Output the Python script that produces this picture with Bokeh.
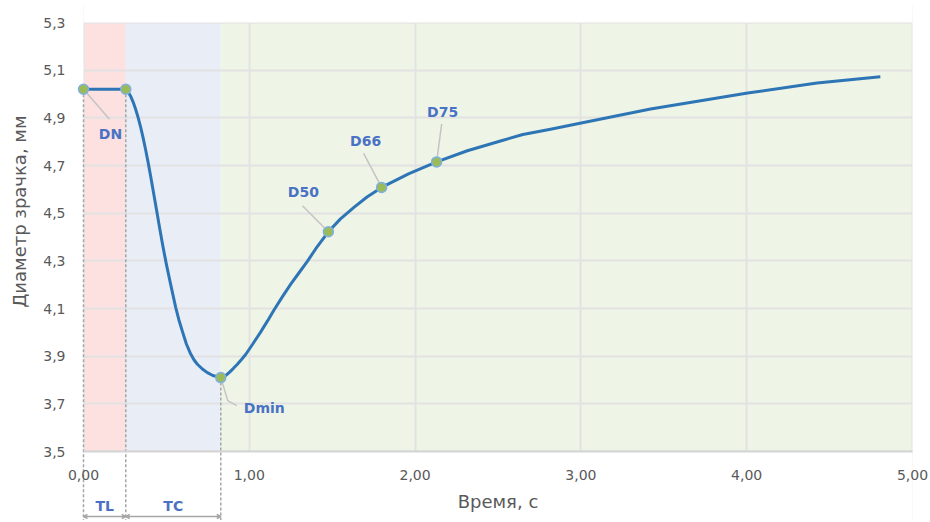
from bokeh.plotting import figure
from bokeh.models import (ColumnDataSource, FixedTicker, CustomJSTickFormatter, Arrow,
                          OpenHead, Range1d, Title)
from bokeh.core.properties import value
from bokeh.embed import file_html
from bokeh.resources import INLINE

# ---- data ----
curve_t = [0.0, 0.255, 0.27, 0.285, 0.30, 0.315, 0.33, 0.345, 0.36, 0.375, 0.39, 0.405,
           0.422, 0.44, 0.46, 0.48, 0.50, 0.526, 0.556, 0.575, 0.597, 0.62, 0.646, 0.667,
           0.687, 0.717, 0.747, 0.78, 0.828, 0.855, 0.878, 0.903, 0.928, 0.953, 0.978,
           1.02, 1.069, 1.11, 1.149, 1.20, 1.25, 1.30, 1.35, 1.41, 1.477, 1.55, 1.631,
           1.71, 1.798, 1.96, 2.13, 2.315, 2.515, 2.65, 2.817, 3.002, 3.42, 4.006, 4.424,
           4.806]
curve_d = [5.02, 5.02, 5.008, 4.99, 4.965, 4.935, 4.90, 4.86, 4.815, 4.765, 4.712, 4.655,
           4.588, 4.515, 4.435, 4.357, 4.285, 4.20, 4.105, 4.053, 4.003, 3.952, 3.910, 3.884,
           3.866, 3.846, 3.831, 3.819, 3.81, 3.817, 3.831, 3.848, 3.866, 3.886, 3.907,
           3.950, 4.002, 4.048, 4.094, 4.150, 4.202, 4.25, 4.298, 4.36, 4.422, 4.476, 4.524,
           4.568, 4.608, 4.665, 4.715, 4.762, 4.803, 4.83, 4.852, 4.878, 4.937, 5.004, 5.046,
           5.072]

key_t = [0.0, 0.255, 0.828, 1.477, 1.798, 2.130]
key_d = [5.02, 5.02, 3.81, 4.422, 4.608, 4.715]
key_names = ["DN", "", "Dmin", "D50", "D66", "D75"]

phase_names = ["TL", "TC", ""]
phase_start = [0.0, 0.255, 0.828]
phase_end = [0.255, 0.828, 5.0]

x_ticks = [0.0, 1.0, 2.0, 3.0, 4.0, 5.0]
y_ticks = [3.5, 3.7, 3.9, 4.1, 4.3, 4.5, 4.7, 4.9, 5.1, 5.3]

# ---- styling / layout ----
W, H = 930, 520
CANVAS_L, CANVAS_T = 39, 6          # frame origin (left panel holds the y title)
PLOT_L, PLOT_R, PLOT_T, AXIS_Y = 83, 912, 22, 451
x0, x1 = 0.0, 5.0
y0, y1 = 3.5, 5.3
pxx = (PLOT_R - PLOT_L) / (x1 - x0)
pxy = (AXIS_Y - PLOT_T) / (y1 - y0)
x_left = x0 - (PLOT_L - CANVAS_L) / pxx
x_right = x1 + (W - PLOT_R) / pxx
y_bottom = y0 - (H - AXIS_Y) / pxy
y_top = y1 + (PLOT_T - CANVAS_T) / pxy


def dx(px):
    return px / pxx


def dy(px):  # screen px downward -> data
    return -px / pxy


band_colors = ["#fde1e1", "#e9edf6", "#eef5e7"]
label_blue = "#4a72c4"
gray_text = "#595959"
font = "DejaVu Sans"

p = figure(width=W, height=H, output_backend="svg", toolbar_location=None,
           x_range=Range1d(x_left, x_right), y_range=Range1d(y_bottom, y_top),
           min_border_left=CANVAS_L, min_border_right=0,
           min_border_top=CANVAS_T, min_border_bottom=0)
p.outline_line_color = None
p.background_fill_color = "white"

# bands
bands = ColumnDataSource(dict(left=phase_start, right=phase_end, color=band_colors))
p.quad(left="left", right="right", bottom=y0, top=y1, color="color", line_color=None,
       source=bands, level="image")

# white covers outside the plot area (hide grid lines there)
p.quad(left=[x_left, x1, x0, x0], right=[x0, x_right, x1, x1],
       bottom=[y_bottom, y_bottom, y_bottom, y1], top=[y_top, y_top, y0, y_top],
       color="white", line_color=None)

# grids / axes (axes drawn at fixed locations inside the enlarged frame)
p.xaxis.fixed_location = y0
p.yaxis.fixed_location = x0
p.xaxis.bounds = (x0, x1)
p.yaxis.bounds = (y0, y1)
p.xaxis.ticker = FixedTicker(ticks=x_ticks)
p.yaxis.ticker = FixedTicker(ticks=y_ticks)
p.xaxis.formatter = CustomJSTickFormatter(code="return tick.toFixed(2).replace('.', ',');")
p.yaxis.formatter = CustomJSTickFormatter(code="return tick.toFixed(1).replace('.', ',');")
for g in (p.xgrid, p.ygrid):
    g.grid_line_color = "#e2e2e2"
    g.grid_line_width = 2
for ax in (p.xaxis, p.yaxis):
    ax.axis_line_color = None
    ax.major_tick_line_color = None
    ax.minor_tick_line_color = None
    ax.major_label_text_font = font
    ax.major_label_text_font_size = "14px"
    ax.major_label_text_color = gray_text
    ax.axis_label_text_font = font
    ax.axis_label_text_font_size = "18px"
    ax.axis_label_text_font_style = "normal"
    ax.axis_label_text_color = gray_text
p.xaxis.axis_line_color = "#d4d4d4"
p.xaxis.axis_line_width = 2
p.xaxis.axis_label = "Время, с"
p.xaxis.major_label_standoff = 12
p.xaxis.axis_label_standoff = 8
p.yaxis.major_label_standoff = 12

p.add_layout(Title(text="Диаметр зрачка, мм", align="right", offset=115 - CANVAS_T,
                   vertical_align="top", text_font=font, text_font_size="18px",
                   text_font_style="normal", text_color=gray_text, standoff=16), "left")

# leader lines (pixel offsets -> data)
lead_px = {
    "DN": [(0, 0), (26, 30)],
    "Dmin": [(0, 0), (7, 23), (16, 28)],
    "D50": [(0, 0), (-26, -26)],
    "D66": [(0, 0), (-18, -34)],
    "D75": [(0, 0), (5, -38)],
}
lab_px = {"DN": (27, 45, "center"), "Dmin": (23, 30, "left"), "D50": (-25, -40, "center"),
          "D66": (-16, -46, "center"), "D75": (6, -50, "center")}
lx, ly = [], []
for t, d, n in zip(key_t, key_d, key_names):
    if n in lead_px:
        lx.append([t + dx(a) for a, b in lead_px[n]])
        ly.append([d + dy(b) for a, b in lead_px[n]])
p.multi_line(lx, ly, line_color="#c4c4c4", line_width=1.5)

# dashed verticals from the phase boundary points down below the axis
y_arrow = y_bottom + dy(-4)
p.segment(x0=key_t[:3], y0=key_d[:3], x1=key_t[:3], y1=[y_bottom] * 3,
          line_color="#a6a6a6", line_width=1.5, line_dash="3 2")

# curve and markers
p.line(curve_t, curve_d, line_color="#2e75b6", line_width=3, line_join="round")
p.scatter(key_t, key_d, size=10, fill_color="#9bbb59", line_color="#7fb0e0", line_width=1.5)

# labels
for t, d, n in zip(key_t, key_d, key_names):
    if n in lab_px:
        ox, oy, al = lab_px[n]
        p.text([t], [d], text=[n], x_offset=ox, y_offset=oy, text_align=al,
               text_baseline="middle", text_font=value(font), text_font_size="14px",
               text_font_style="bold", text_color=label_blue)

# phase dimension arrows and labels below the axis
y_text = y_bottom + dy(-15)
for s, e, n in zip(phase_start, phase_end, phase_names):
    if n:
        p.add_layout(Arrow(x_start=s, y_start=y_arrow, x_end=e, y_end=y_arrow,
                           start=OpenHead(size=4, line_color="#a6a6a6", line_width=1.5),
                           end=OpenHead(size=4, line_color="#a6a6a6", line_width=1.5),
                           line_color="#a6a6a6", line_width=1.5))
        p.text([(s + e) / 2], [y_text], text=[n], text_align="center",
               text_baseline="middle", text_font=value(font), text_font_size="14px",
               text_font_style="bold", text_color=label_blue)

open("out.html", "w").write(file_html(p, INLINE))
